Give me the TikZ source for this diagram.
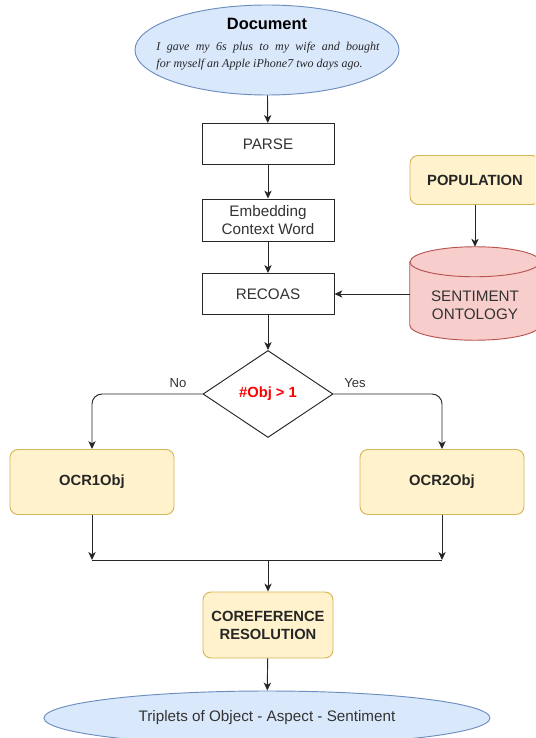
\documentclass[tikz,border=0pt]{standalone}
\usepackage{fontspec}
\setmainfont{Liberation Sans}
\newfontfamily\docfont{Liberation Serif}
\usetikzlibrary{shapes.geometric,arrows.meta,backgrounds}
\definecolor{bluefill}{HTML}{DAE8FC}
\definecolor{blueline}{HTML}{6C8EBF}
\definecolor{yelfill}{HTML}{FFF2CC}
\definecolor{yelline}{HTML}{D6B656}
\definecolor{redfill}{HTML}{F8CECC}
\definecolor{redline}{HTML}{B85450}
\definecolor{txtgray}{HTML}{333333}
\begin{document}
\begin{tikzpicture}[x=0.03cm, y=-0.03cm,
            font=\fontsize{13}{15.5}\selectfont, text=txtgray,
            arr/.style={draw=black!85, line width=0.8pt, -{Stealth[length=2.4mm,width=2.2mm,inset=0.7mm]}},
            plainbox/.style={draw=black!85, line width=0.8pt, fill=white, minimum width=3.96cm, minimum height=1.23cm, align=center},
            yelbox/.style={draw=yelline, line width=0.8pt, fill=yelfill, rounded corners=0.24cm, font=\fontsize{12.6}{15.5}\selectfont\bfseries, text=black!85, align=center},
            blueell/.style={ellipse, draw=blueline, line width=0.8pt, fill=bluefill, inner sep=0pt},
            lbl/.style={font=\fontsize{11.2}{13}\selectfont}]
            \useasboundingbox (0,0) rectangle (535,738);
            \clip (0,0) rectangle (535,738);
            % input document
            \node[blueell, minimum width=7.92cm, minimum height=2.7cm] (doc) at (267,50) {};
            \node[font=\fontsize{14}{16}\selectfont\bfseries, text=black] (doctitle) at (267,24) {Document};
            \node[font=\docfont\itshape\fontsize{10.25}{14.5}\selectfont, text=black!85, align=left, inner sep=0pt] (doctext) at (268,56)
                {\makebox[6.69cm][s]{I gave my 6s plus to my wife and bought}\\for myself an Apple iPhone7 two days ago.};
            % main chain
            \node[plainbox] (parse) at (268,144) {PARSE};
            \node[plainbox, minimum height=1.26cm] (embed) at (268,220) {Embedding\\Context Word};
            \node[plainbox] (recoas) at (268,294) {RECOAS};
            \node[diamond, draw=black!85, line width=0.8pt, inner sep=0pt, minimum width=3.9cm, minimum height=2.61cm,
                  font=\fontsize{12.6}{15}\selectfont\bfseries, text=red] (dec) at (268,394) {\#Obj > 1};
            % ontology side
            \node[yelbox, minimum width=3.9cm, minimum height=1.47cm] (pop) at (475,180) {POPULATION};
            \node[minimum width=3.9cm, minimum height=2.79cm, inner sep=0pt] (onto) at (475,293.5) {};
            \node[align=center] (ontotext) at ([yshift=-0.36cm]onto.center) {SENTIMENT\\ONTOLOGY};
            \begin{scope}[on background layer]
                \filldraw[draw=redline, fill=redfill, line width=0.8pt] ([yshift=-0.45cm]onto.north west) -- ([yshift=0.45cm]onto.south west)
                    arc[start angle=180, end angle=360, x radius=1.95cm, y radius=0.45cm] -- ([yshift=-0.45cm]onto.north east)
                    arc[start angle=0, end angle=180, x radius=1.95cm, y radius=0.45cm] -- cycle;
                \draw[redline, line width=0.8pt] ([yshift=-0.45cm]onto.north west)
                    arc[start angle=180, end angle=360, x radius=1.95cm, y radius=0.45cm];
            \end{scope}
            % branches
            \node[yelbox, minimum width=4.92cm, minimum height=1.95cm] (ocr1) at (92,482) {OCR1Obj};
            \node[yelbox, minimum width=4.92cm, minimum height=1.95cm] (ocr2) at (442,482) {OCR2Obj};
            \coordinate (merge) at (268,560);
            \node[yelbox, minimum width=3.9cm, minimum height=1.98cm] (coref) at (268,625) {COREFERENCE\\RESOLUTION};
            \node[blueell, minimum width=13.38cm, minimum height=1.62cm] (out) at (267,718) {Triplets of Object - Aspect - Sentiment};
            \node[lbl] (lblno) at (178,383) {No};
            \node[lbl] (lblyes) at (355,383) {Yes};
            % connectors
            \draw[arr] (doc) -- (parse);
            \draw[arr] (parse) -- (embed);
            \draw[arr] (embed) -- (recoas);
            \draw[arr] (recoas) -- (dec);
            \draw[arr] (pop) -- (onto.north);
            \draw[arr] (onto.west |- recoas.east) -- (recoas.east);
            \draw[arr, rounded corners=0.3cm] (dec.west) -| (ocr1.north);
            \draw[arr, rounded corners=0.3cm] (dec.east) -| (ocr2.north);
            \draw[arr] (ocr1) -- (ocr1 |- merge);
            \draw[arr] (ocr2) -- (ocr2 |- merge);
            \draw[draw=black!85, line width=0.8pt] (ocr1 |- merge) -- (ocr2 |- merge);
            \draw[arr] (merge) -- (coref);
            \draw[arr] (coref) -- (out);
        \end{tikzpicture}
\end{document}
